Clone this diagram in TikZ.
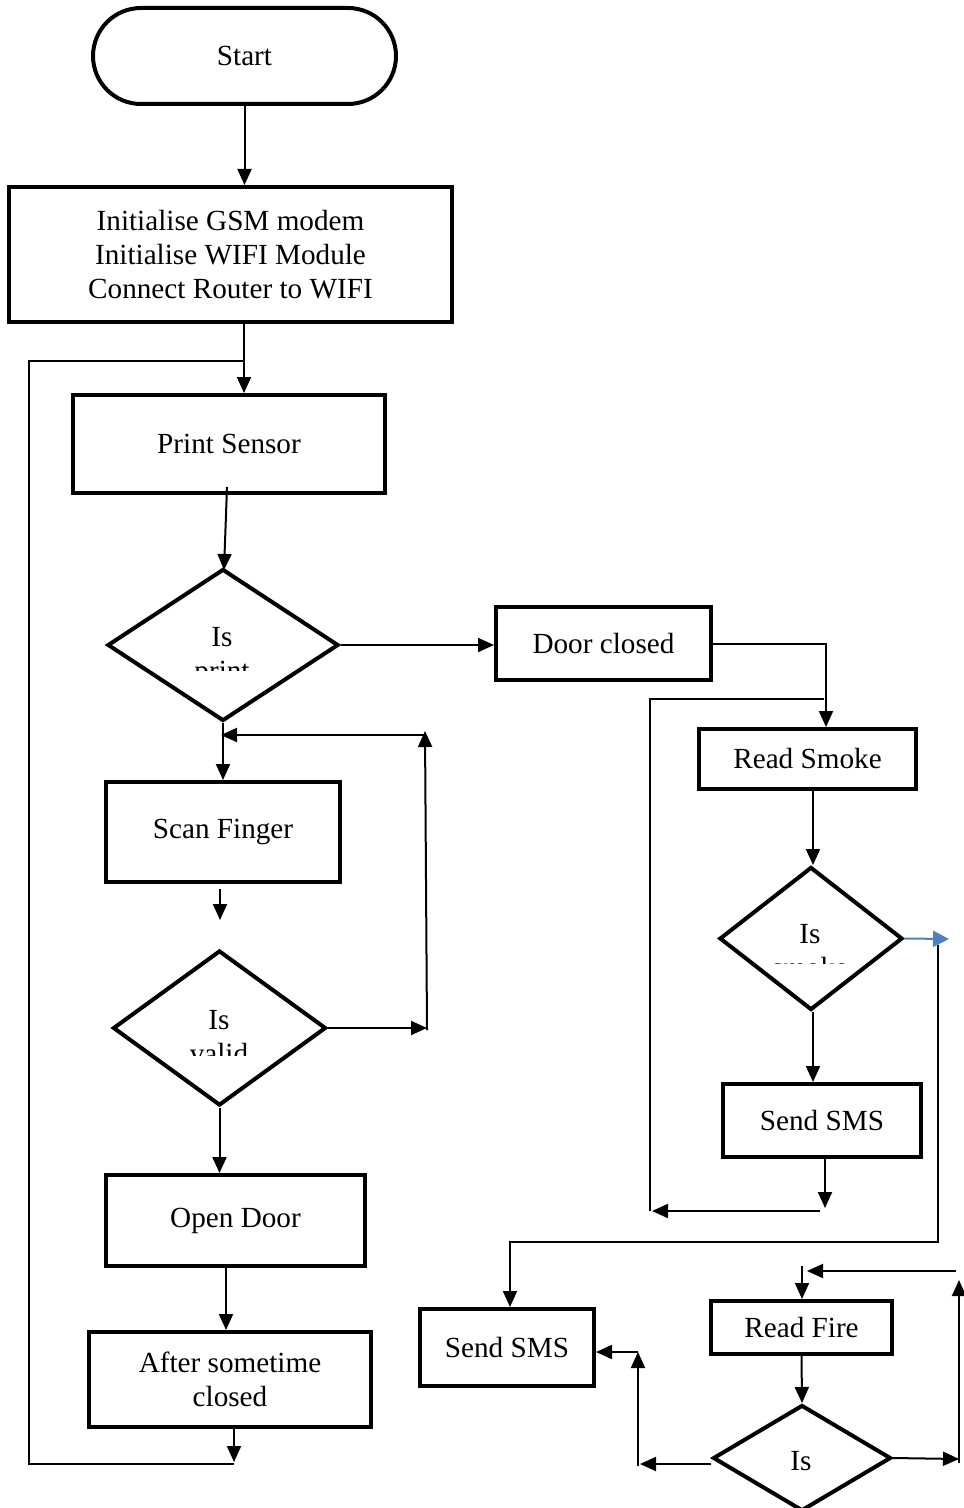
\documentclass[tikz,border=0pt]{standalone}
\usepackage{fontspec}
\setmainfont{Liberation Serif}
\usetikzlibrary{shapes.geometric,arrows.meta}
\definecolor{arrowblue}{RGB}{79,129,189}
\begin{document}
\begin{tikzpicture}[x=0.5pt,y=-0.5pt,
  font=\fontsize{14.6pt}{17pt}\selectfont,
  box/.style={draw,line width=2pt,inner sep=0pt,align=center},
  term/.style={draw,line width=2pt,rounded corners=24pt,inner sep=0pt},
  dia/.style={draw,shape=diamond,line width=2pt,inner sep=0pt},
  conn/.style={line width=1pt},
  arr/.style={line width=1pt,-{Triangle[length=8pt,width=7pt]}},
  lbl/.style={inner sep=0pt,anchor=base}]
\useasboundingbox (0,0) rectangle (963,1508);
\fill[white] (0,0) rectangle (963,1508);

% ---- nodes
\node[term,minimum width=151.5pt,minimum height=48pt] (start) at (244.5,56) {Start};
\node[box,minimum width=221.5pt,minimum height=67.5pt] (init) at (230.5,254.5)
  {Initialise GSM modem\\Initialise WIFI Module\\Connect Router to WIFI};
\node[box,minimum width=156pt,minimum height=49pt] (print) at (229,444) {Print Sensor};
\node[dia,minimum width=115.5pt,minimum height=76pt] (d1) at (223,645) {};
\node[box,minimum width=107.5pt,minimum height=36.5pt] (door) at (603.5,643.5) {Door closed};
\node[box,minimum width=108.5pt,minimum height=30pt] (smoke) at (807.5,759) {Read Smoke};
\node[dia,minimum width=91.5pt,minimum height=71.5pt] (d2) at (811,938.5) {};
\node[box,minimum width=99pt,minimum height=36.5pt] (sms1) at (822,1120.5) {Send SMS};
\node[box,minimum width=117pt,minimum height=50pt] (scan) at (223,832) {Scan Finger};
\node[dia,minimum width=106.5pt,minimum height=77.5pt] (d3) at (219.5,1028) {};
\node[box,minimum width=129.5pt,minimum height=45.5pt] (open) at (235.5,1220.5) {Open Door};
\node[box,minimum width=141pt,minimum height=47.5pt] (after) at (230,1379.5) {After sometime\\closed};
\node[box,minimum width=87pt,minimum height=38.5pt] (sms2) at (507,1347.5) {Send SMS};
\node[box,minimum width=90.5pt,minimum height=26.5pt] (fire) at (801.5,1327.5) {Read Fire};
\node[dia,minimum width=89pt,minimum height=53pt] (d4) at (802,1458) {};

% ---- diamond labels
\node[lbl] (t1) at (222,646) {Is};
\node[lbl] (t2) at (810,943) {Is};
\node[lbl] (t3) at (219,1029) {Is};
\node[lbl] (t4) at (801,1470) {Is};
\begin{scope}
  \clip (150,640) rectangle (300,670);
  \node[lbl] (t1b) at (222,680) {print};
\end{scope}
\begin{scope}
  \clip (760,950) rectangle (860,963);
  \node[lbl] (t2b) at (810,977) {smoke};
\end{scope}
\begin{scope}
  \clip (150,1035) rectangle (300,1055);
  \node[lbl] (t3b) at (219,1063) {valid};
\end{scope}

% ---- coordinates
\coordinate (lp1) at (244,361);
\coordinate (lp2) at (29,361);
\coordinate (lp3) at (31,1464);
\coordinate (af) at (234,1462);
\coordinate (p1) at (227,487);
\coordinate (p2) at (224,570);
\coordinate (ds) at (826,646);
\coordinate (l2a) at (824,699);
\coordinate (l2b) at (650,699);
\coordinate (l2c) at (652,1211);
\coordinate (l2d) at (820,1211);
\coordinate (sx) at (813,800);
\coordinate (s1e) at (825,1208);
\coordinate (bl) at (949,939);
\coordinate (r1) at (938,945);
\coordinate (r2) at (938,1242);
\coordinate (r3) at (510,1242);
\coordinate (v1) at (427,1030);
\coordinate (v2) at (425,731);
\coordinate (v3) at (426,735);
\coordinate (v4) at (221,735);
\coordinate (sa1) at (220,889);
\coordinate (sa2) at (220,920);
\coordinate (oa) at (226,1300);
\coordinate (q1) at (638,1466);
\coordinate (q2) at (638,1352);
\coordinate (q3) at (640,1464);
\coordinate (w1) at (959,1459);
\coordinate (w2) at (959,1463);
\coordinate (w3) at (959,1280);
\coordinate (w4) at (956,1271);
\coordinate (w5) at (807,1271);
\coordinate (w6) at (802,1266);

% ---- connectors
\draw[arr] (start.south) -- (start.south |- init.north);
\draw[arr] (init.south -| lp1) -- (print.north -| lp1);
\draw[conn] (lp1) -- (lp2) -- (lp2 |- lp3) -- (lp3 -| af);
\draw[arr] (after.south -| af) -- (af);
\draw[arr] (p1) -- (p2);
\draw[arr] (d1.east) -- (d1.east -| door.west);
\draw[arr] (door.east) -- (door.east -| ds) -- (ds |- smoke.north);
\draw[conn] (l2a) -- (l2b) -- (l2b |- l2c);
\draw[arr] (l2d) -- (l2c);
\draw[arr] (smoke.south -| sx) -- (d2.north -| sx);
\draw[arr] (d2.south -| sx) -- (sms1.north -| sx);
\draw[arr] (sms1.south -| s1e) -- (s1e);
\draw[line width=1pt,arrowblue,-{Triangle[length=8pt,width=8pt]}] (d2.east) -- (bl);
\draw[arr] (r1) -- (r2) -- (r3) -- (r3 |- sms2.north);
\draw[arr] (d1.south) -- (d1.south |- scan.north);
\draw[arr] (d3.east) -- (d3.east -| v1);
\draw[arr] (v1) -- (v2);
\draw[arr] (v3) -- (v4);
\draw[arr] (sa1) -- (sa2);
\draw[arr] (d3.south) -- (d3.south |- open.north);
\draw[arr] (open.south -| oa) -- (after.north -| oa);
\draw[arr] (q1) -- (q2);
\draw[arr] (q2) -- (sms2.east |- q2);
\draw[arr] (d4.west |- q3) -- (q3);
\draw[arr] (fire.south) -- (d4.north);
\draw[arr] (d4.east) -- (w1);
\draw[arr] (w2) -- (w3);
\draw[arr] (w4) -- (w5);
\draw[arr] (w6) -- (w6 |- fire.north);
\end{tikzpicture}
\end{document}
